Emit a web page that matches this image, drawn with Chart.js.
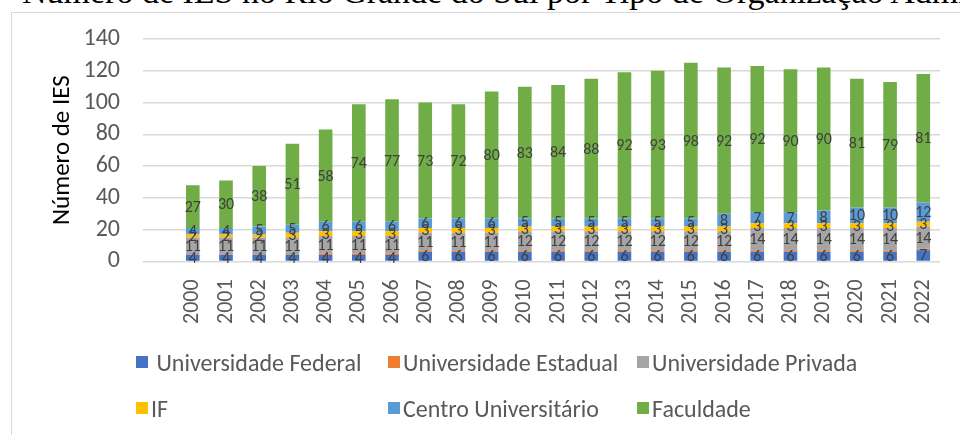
<!DOCTYPE html>
<html>
<head>
<meta charset="utf-8">
<script src="https://cdn.jsdelivr.net/npm/chart.js@4.4.1/dist/chart.umd.min.js"></script>
<style>
  html, body { margin: 0; padding: 0; background: #fff; }
  body { width: 960px; height: 435px; position: relative; overflow: hidden; }
  #title {
    position: absolute; left: 22px; top: -27px; white-space: nowrap;
    font: 34px/38px "Liberation Serif", "Times New Roman", serif; color: #000;
  }
  #frame {
    position: absolute; left: 11px; top: 12px; width: 1000px; height: 500px;
    border: 1px solid #d9d9d9; box-sizing: border-box;
  }
  #wrap { position: absolute; left: 0; top: 0; width: 960px; height: 334px; }
  #legend { position: absolute; left: 0; top: 0; width: 960px; height: 435px; pointer-events: none; }
  .item { position: absolute; font: 24px Carlito, Lato, sans-serif; color: #595959; white-space: pre; display: flex; align-items: center; height: 28px; }
  .box { width: 12px; height: 12px; margin-right: 3px; flex: none; }
</style>
</head>
<body>
<div id="title">Número de IES no Rio Grande do Sul por Tipo de Organização Administrativa</div>
<div id="frame"></div>
<div id="wrap"><canvas id="chart"></canvas></div>
<div id="legend"></div>
<script>
// values
const years = ['2000','2001','2002','2003','2004','2005','2006','2007','2008','2009','2010','2011',
               '2012','2013','2014','2015','2016','2017','2018','2019','2020','2021','2022'];
const federal   = [4,4,4,4,4,4,4,6,6,6,6,6,6,6,6,6,6,6,6,6,6,6,7];
const estadual  = [0,0,0,0,1,1,1,1,1,1,1,1,1,1,1,1,1,1,1,1,1,1,1];
const privada   = [11,11,11,11,11,11,11,11,11,11,12,12,12,12,12,12,12,14,14,14,14,14,14];
const instFed   = [2,2,2,3,3,3,3,3,3,3,3,3,3,3,3,3,3,3,3,3,3,3,3];
const centro    = [4,4,5,5,6,6,6,6,6,6,5,5,5,5,5,5,8,7,7,8,10,10,12];
const faculdade = [27,30,38,51,58,74,77,73,72,80,83,84,88,92,93,98,92,92,90,90,81,79,81];
const yTicks = [0,20,40,60,80,100,120,140];

const series = [
  { label: ' Universidade Federal',  data: federal,   color: '#4472C4', showLabels: true  },
  { label: 'Universidade Estadual',  data: estadual,  color: '#ED7D31', showLabels: false },
  { label: 'Universidade Privada',   data: privada,   color: '#A5A5A5', showLabels: true  },
  { label: 'IF',                     data: instFed,   color: '#FFC000', showLabels: true  },
  { label: 'Centro Universitário',   data: centro,    color: '#5B9BD5', showLabels: true  },
  { label: 'Faculdade',              data: faculdade, color: '#70AD47', showLabels: true  }
];

// the plot leaves one empty slot before 2000
const labels = [''].concat(years);

const FONT = 'Carlito, Lato, sans-serif';

// value labels in the middle of each segment
const segLabels = {
  id: 'segLabels',
  afterDatasetsDraw(chart) {
    const { ctx } = chart;
    ctx.save();
    ctx.font = '16px ' + FONT;
    ctx.fillStyle = '#404040';
    ctx.textAlign = 'center';
    ctx.textBaseline = 'middle';
    chart.data.datasets.forEach((ds, i) => {
      if (!series[i].showLabels) return;
      chart.getDatasetMeta(i).data.forEach((bar, j) => {
        const v = ds.data[j];
        if (v == null || v === 0) return;
        const mid = (bar.y + bar.base) / 2;
        ctx.fillText(String(v), bar.x, mid + 1);
      });
    });
    ctx.restore();
  }
};

new Chart(document.getElementById('chart').getContext('2d'), {
  type: 'bar',
  data: {
    labels: labels,
    datasets: series.map(s => ({
      label: s.label,
      data: [null].concat(s.data),
      backgroundColor: s.color,
      borderWidth: 0,
      categoryPercentage: 0.41,
      barPercentage: 1
    }))
  },
  options: {
    responsive: true,
    maintainAspectRatio: false,
    animation: false,
    layout: { padding: { left: 44, right: 15, top: 39, bottom: 0 } },
    plugins: {
      legend: { display: false },
      tooltip: { enabled: false }
    },
    scales: {
      x: {
        stacked: true,
        grid: { display: false },
        border: { display: false },
        ticks: {
          autoSkip: false, minRotation: 90, maxRotation: 90, padding: 10,
          color: '#595959', font: { family: FONT, size: 22 }
        }
      },
      y: {
        stacked: true,
        min: 0, max: 140,
        afterBuildTicks: scale => { scale.ticks = yTicks.map(v => ({ value: v })); },
        afterFit: scale => { scale.width = 99; },
        grid: { color: '#d9d9d9', lineWidth: 1.5, drawTicks: false },
        border: { display: false },
        ticks: { autoSkip: false, padding: 23, color: '#595959', font: { family: FONT, size: 24 } },
        title: {
          display: true, text: 'Número de IES', color: '#000',
          font: { family: FONT, size: 25 }, padding: { top: 4, bottom: 0 }
        }
      }
    }
  },
  plugins: [segLabels]
});

// legend as a fixed three column grid
const legendEl = document.getElementById('legend');
const colX = [136, 388, 637];
const rowY = [348, 394];
series.forEach((s, i) => {
  const el = document.createElement('div');
  el.className = 'item';
  el.style.left = colX[i % 3] + 'px';
  el.style.top = rowY[Math.floor(i / 3)] + 'px';
  const box = document.createElement('span');
  box.className = 'box';
  box.style.background = s.color;
  el.appendChild(box);
  el.appendChild(document.createTextNode(s.label));
  legendEl.appendChild(el);
});
</script>
</body>
</html>
